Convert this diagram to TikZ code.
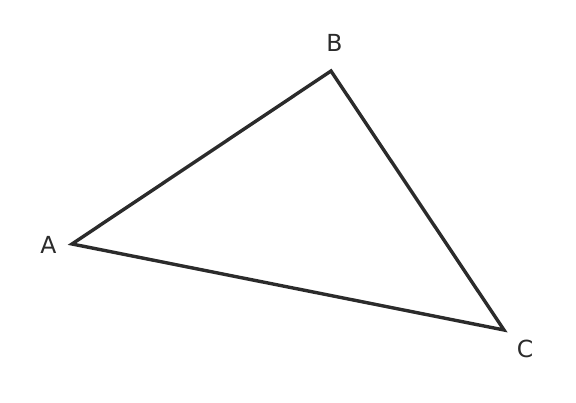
\documentclass[tikz,border=0pt]{standalone}
\usepackage{fontspec}
\setmainfont{DejaVu Sans}
\usepackage{tikz}
\usetikzlibrary{positioning}
\definecolor{edgegray}{HTML}{2B2B2B}
\tikzset{
  vertex/.style={inner sep=0pt, font=\fontsize{23.5}{23.5}\selectfont, text=edgegray},
  side/.style={draw=edgegray, line width=3.4pt, line join=miter}
}
\begin{document}
\begin{tikzpicture}[x=1pt, y=1pt]
    \useasboundingbox (0,0) rectangle (576,403);

    % Define corner points
    \coordinate (a) at (72,159);
    \coordinate (b) at (331,332);
    \coordinate (c) at (504,73);

    % Corner labels
    \node[vertex] (la) at (48.5,158.5) {A};
    \node[vertex] (lb) at (334.5,360.5) {B};
    \node[vertex] (lc) at (525,54.5) {C};

    % Connect the points
    \draw[side] (a) -- (b) -- (c) -- cycle;

\end{tikzpicture}
\end{document}
